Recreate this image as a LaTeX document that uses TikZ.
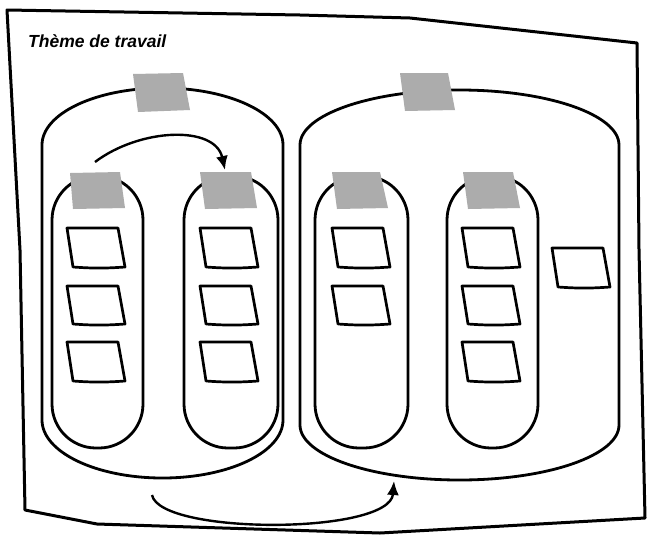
\documentclass[tikz,border=0pt]{standalone}
\usepackage{fontspec}
\setmainfont{Liberation Sans}
\usetikzlibrary{arrows.meta}
\definecolor{taggray}{RGB}{172,172,172}
\tikzset{
  ink/.style={draw=black, line width=2.8pt, line join=round, line cap=round},
  tag/.style={fill=taggray, draw=none},
  card/.style={draw=black, line width=2.7pt, line join=round, fill=white},
  flow/.style={draw=black, line width=2.4pt, -{Latex[length=14pt,width=12pt]}},
}
\newcommand{\cardat}[3]{% x offset, top y, bottom y
  \draw[card] (#1,#2) -- ({#1+51},#2) -- ({#1+58},#3) to[bend left=4] ({#1+6},#3) -- cycle;}
\begin{document}
\begin{tikzpicture}[x=1pt,y=-1pt]
\useasboundingbox (0,0) rectangle (647,536);
\fill[white] (0,0) rectangle (647,536);
% paper sheet
\draw[ink, line width=3pt] (7,10) -- (300,15) -- (410,18) -- (637,43) -- (639,250) -- (645,518)
  -- (380,533) -- (97,524) -- (25,510) -- (20,250) -- cycle;
% title
\node[anchor=base west, inner sep=0pt, xscale=1.0] (title) at (28,47)
  {\fontsize{17.5}{18}\selectfont\bfseries\itshape Thème de travail};
% big containers
\draw[ink] (42,420) -- (42,145) arc[start angle=180,end angle=360,x radius=120.5,y radius=57]
  -- (283,420) arc[start angle=0,end angle=180,x radius=120.5,y radius=58] -- cycle;
\draw[ink] (300,425) -- (300,145) arc[start angle=180,end angle=360,x radius=159.5,y radius=55]
  -- (619,425) arc[start angle=0,end angle=180,x radius=159.5,y radius=55] -- cycle;
% columns (pills)
\draw[ink, rounded corners=44pt] (52,176) rectangle (143,448);
\draw[ink, rounded corners=44pt] (184,176) rectangle (278,448);
\draw[ink, rounded corners=44pt] (315,176) rectangle (408,448);
\draw[ink, rounded corners=44pt] (447,176) rectangle (538,448);
% tags
\fill[tag] (133,74) -- (183,73) -- (190,110) -- (138,112) -- cycle;
\fill[tag] (400,73) -- (448,73) -- (455,110) -- (405,111) -- cycle;
\fill[tag] (70,173) -- (120,172) -- (125,208) -- (73,209) -- cycle;
\fill[tag] (200,172) -- (251,172) -- (257,208) -- (205,209) -- cycle;
\fill[tag] (332,172) -- (380,172) -- (388,208) -- (337,209) -- cycle;
\fill[tag] (463,172) -- (513,172) -- (520,208) -- (468,209) -- cycle;
% cards
\cardat{67}{228}{267}\cardat{67}{286}{324}\cardat{67}{342}{381}
\cardat{200}{228}{267}\cardat{200}{286}{324}\cardat{200}{342}{381}
\cardat{332}{228}{267}\cardat{332}{286}{324}
\cardat{462}{228}{267}\cardat{462}{286}{324}\cardat{462}{342}{381}
\cardat{552}{248}{287}
% arrows
\coordinate (a1s) at (95,162);
\coordinate (a1e) at (225,170);
\coordinate (a2s) at (152,495);
\coordinate (a2e) at (394,481);
\draw[flow] (a1s) .. controls (140,128) and (215,125) .. (a1e);
\draw[flow] (a2s) .. controls (160,535) and (390,535) .. (a2e);
\end{tikzpicture}
\end{document}
